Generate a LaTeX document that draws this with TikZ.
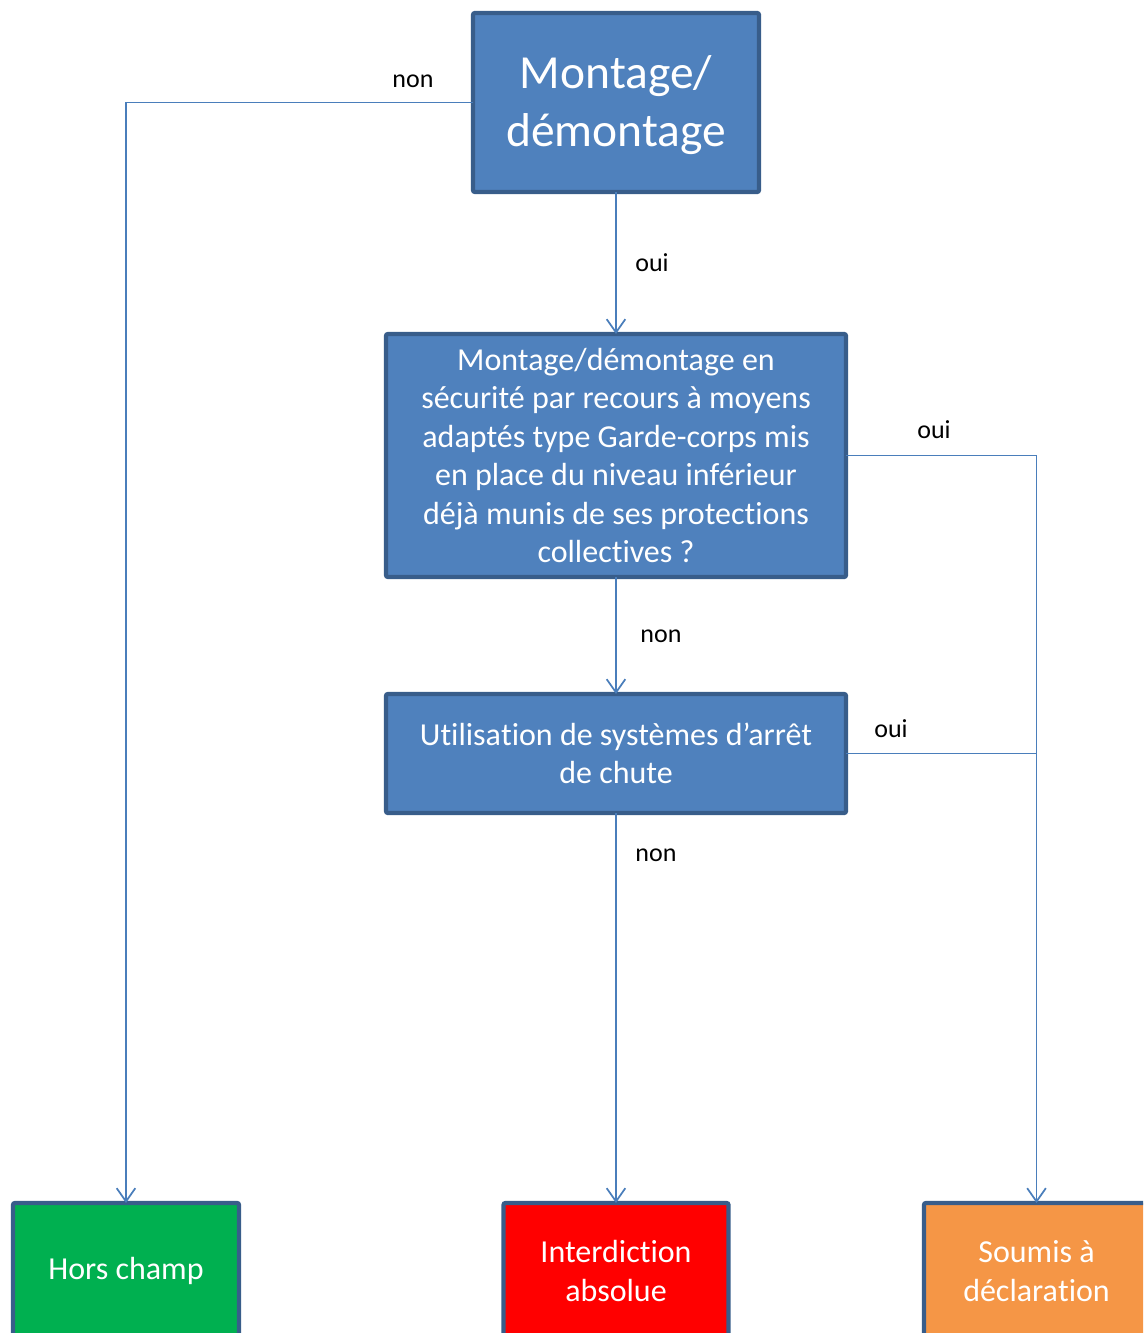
\documentclass[tikz,border=0pt]{standalone}
\usepackage{fontspec}
\setmainfont[Ligatures={NoCommon,NoRequired,NoContextual,NoRare}]{Carlito}
\usetikzlibrary{arrows.meta}
\definecolor{boxblue}{HTML}{4F81BD}
\definecolor{boxedge}{HTML}{385D8A}
\definecolor{linecol}{HTML}{4A7EBB}
\definecolor{boxgreen}{HTML}{00B050}
\definecolor{boxred}{HTML}{FF0000}
\definecolor{boxorange}{HTML}{F59646}
\newcommand\nl{\kern0pt}
\tikzset{
  box/.style={draw=boxedge, line width=3.2pt, fill=boxblue, text=white, rounded corners=1.5pt,
    align=center, inner sep=0pt, outer sep=0pt, font=\fontsize{24}{28.9}\selectfont},
  conn/.style={draw=linecol, line width=1.3pt},
  arr/.style={conn, -{Straight Barb[length=10pt, width=14pt, line width=1.3pt]}},
  lab/.style={font=\fontsize{19.5}{23}\selectfont, text=black, inner sep=0pt}
}
\begin{document}
\begin{tikzpicture}[x=0.75pt, y=-0.75pt]
\useasboundingbox (0,0) rectangle (1143,1333);
\clip (0,0) rectangle (1143,1333);
\node[box, minimum width=286*0.75pt, minimum height=179*0.75pt, text depth=2pt, font=\fontsize{35.6}{43.5}\selectfont]
  (top) at (616,102.5) {Montage/\\démontage};
\node[box, minimum width=460*0.75pt, minimum height=243*0.75pt]
  (m1) at (616,455.5) {Montage/démontage en\\sécurité par recours à moyens\\adaptés type Garde-corps mis\\en place du niveau inférieur\\déjà munis de ses protec\nl t\nl ions\\collectives ?};
\node[box, minimum width=460*0.75pt, minimum height=119*0.75pt]
  (m2) at (616,753.5) {Utilisa\nl t\nl ion de systèmes d’arrêt\\de chute};
\node[box, fill=boxgreen, minimum width=226*0.75pt, minimum height=136*0.75pt]
  (hors) at (126,1271) {Hors champ};
\node[box, fill=boxred, minimum width=225*0.75pt, minimum height=136*0.75pt]
  (interd) at (616,1271) {Interdic\nl t\nl ion\\absolue};
\node[box, fill=boxorange, minimum width=225*0.75pt, minimum height=136*0.75pt]
  (soumis) at (1036.5,1271) {Soumis à\\déclara\nl t\nl ion};

\draw[arr] (top.west) -| (hors.north);
\draw[arr] (top.south) -- (m1.north);
\draw[arr] (m1.east) -| (soumis.north);
\draw[conn] (m2.east) -- (m2.east -| soumis.north);
\draw[arr] (m1.south) -- (m2.north);
\draw[arr] (m2.south) -- (interd.north);

\node[lab] (l1) at (413,81) {non};
\node[lab] (l2) at (652,263) {oui};
\node[lab] (l3) at (934,430) {oui};
\node[lab] (l4) at (661,636) {non};
\node[lab] (l5) at (891,729) {oui};
\node[lab] (l6) at (656,855) {non};
\end{tikzpicture}
\end{document}
